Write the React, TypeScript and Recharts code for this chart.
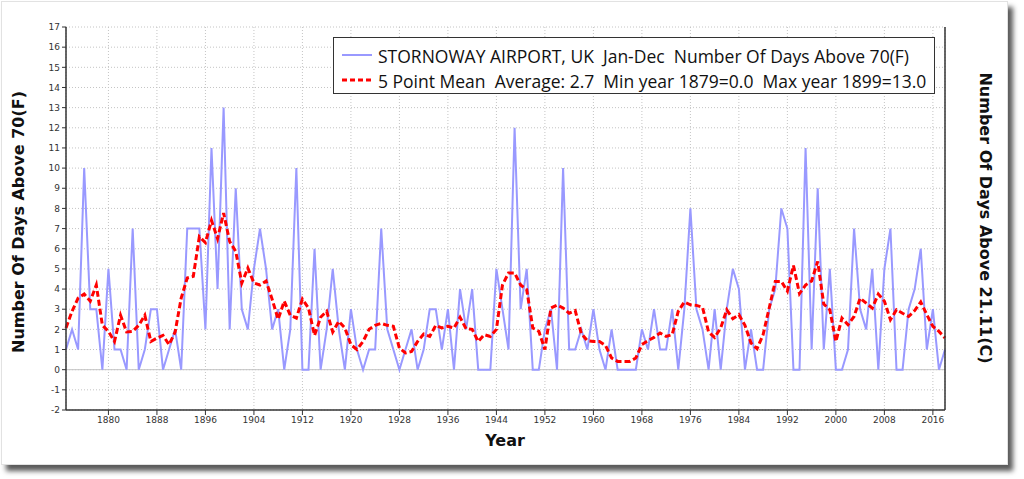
import React from "react";
import {
  LineChart,
  Line,
  XAxis,
  YAxis,
  CartesianGrid,
  ReferenceLine,
} from "recharts";

// Stornoway Airport, days above 70F per year, 1873-2018
const FIRST_YEAR = 1873;

const daysAbove70 = [
  1, 2, 1, 10, 3, 3, 0,
  5, 1, 1, 0, 7, 0, 1, 3, 3, 0,
  1, 2, 0, 7, 7, 7, 2, 11, 4, 13,
  2, 9, 3, 2, 5, 7, 5, 2, 3, 0,
  2, 10, 0, 0, 6, 0, 2, 5, 2, 0,
  3, 1, 0, 1, 1, 7, 2, 1, 0, 1,
  2, 0, 1, 3, 3, 1, 3, 0, 4, 2,
  4, 0, 0, 0, 5, 3, 1, 12, 3, 5,
  0, 0, 2, 3, 0, 10, 1, 1, 2, 1,
  3, 1, 0, 2, 0, 0, 0, 0, 2, 1,
  3, 1, 1, 3, 0, 3, 8, 3, 2, 0,
  3, 0, 3, 5, 4, 0, 2, 0, 0, 3,
  4, 8, 7, 0, 0, 11, 1, 9, 1, 5,
  0, 0, 1, 7, 3, 2, 5, 0, 5, 7,
  0, 0, 3, 4, 6, 1, 3, 0, 1,
];

const fivePointMean = [
  2.07, 2.9, 3.55, 3.75, 3.4, 4.2, 2.2,
  1.9, 1.4, 2.7, 1.87, 1.9, 2.2, 2.7, 1.4, 1.57, 1.7,
  1.24, 1.87, 3.55, 4.55, 4.63, 6.6, 6.3, 7.4, 6.5, 7.77,
  6.36, 5.87, 4.3, 5.04, 4.3, 4.2, 4.4, 3.5, 2.5, 3.4,
  2.7, 2.56, 3.5, 3.06, 1.7, 2.6, 2.9, 1.87, 2.4, 2.07,
  1.24, 1.0, 1.4, 2.0, 2.2, 2.3, 2.2, 2.15, 1.07, 0.83,
  0.9, 1.4, 1.77, 1.65, 2.2, 2.07, 2.15, 2.07, 2.6, 2.03,
  2.0, 1.4, 1.74, 1.65, 2.0, 4.2, 4.8, 4.8, 4.2, 3.97,
  2.07, 1.9, 1.0, 3.06, 3.2, 3.06, 2.8, 2.93, 1.8, 1.44,
  1.4, 1.4, 1.2, 0.58, 0.41, 0.41, 0.41, 0.58, 1.24, 1.44,
  1.6, 1.82, 1.65, 1.74, 2.9, 3.36, 3.22, 3.19, 3.1, 1.87,
  1.6, 2.07, 2.97, 2.53, 2.73, 2.2, 1.32, 1.04, 1.74, 3.06,
  4.38, 4.38, 3.9, 5.17, 3.77, 4.2, 4.4, 5.37, 3.26, 2.97,
  1.4, 2.56, 2.23, 2.64, 3.55, 3.3, 3.06, 3.75, 3.4, 2.48,
  2.97, 2.8, 2.64, 2.93, 3.36, 2.73, 2.15, 1.9, 1.57,
];

const yearTicks = [
  1880, 1888, 1896, 1904, 1912, 1920, 1928, 1936, 1944, 1952, 1960, 1968,
  1976, 1984, 1992, 2000, 2008, 2016,
];
const minorYearTicks = [
  1874, 1876, 1878, 1880, 1882, 1884, 1886, 1888, 1890, 1892, 1894, 1896,
  1898, 1900, 1902, 1904, 1906, 1908, 1910, 1912, 1914, 1916, 1918, 1920,
  1922, 1924, 1926, 1928, 1930, 1932, 1934, 1936, 1938, 1940, 1942, 1944,
  1946, 1948, 1950, 1952, 1954, 1956, 1958, 1960, 1962, 1964, 1966, 1968,
  1970, 1972, 1974, 1976, 1978, 1980, 1982, 1984, 1986, 1988, 1990, 1992,
  1994, 1996, 1998, 2000, 2002, 2004, 2006, 2008, 2010, 2012, 2014, 2016,
  2018,
];
const dayTicks = [
  -2, -1, 0, 1, 2, 3, 4, 5, 6, 7, 8, 9, 10, 11, 12, 13, 14, 15, 16, 17,
];

const legendRows = [
  {
    text: "STORNOWAY AIRPORT, UK  Jan-Dec  Number Of Days Above 70(F)",
    color: "#9999ff",
    width: 2,
    dash: undefined as string | undefined,
  },
  {
    text: "5 Point Mean  Average: 2.7  Min year 1879=0.0  Max year 1899=13.0",
    color: "#ff0000",
    width: 3,
    dash: "5 3",
  },
];

const data = daysAbove70.map((days, i) => ({
  year: FIRST_YEAR + i,
  days,
  mean: fivePointMean[i],
}));

const FONT = "'DejaVu Sans', Verdana, sans-serif";
const BLUE = "#9999ff";
const RED = "#ff0000";
const AXIS = "#333";
const tickStyle = { fontSize: 9, fill: "#333", fontFamily: FONT };

const titleStyle: React.CSSProperties = {
  position: "absolute",
  fontFamily: FONT,
  fontWeight: "bold",
  fontSize: 16,
  color: "#111",
  whiteSpace: "nowrap",
};

const LegendBox = () => (
  <div
    style={{
      position: "absolute",
      left: 333,
      top: 37,
      width: 602,
      height: 57,
      border: "1px solid #333",
      background: "#fff",
      fontFamily: "'Open Sans', sans-serif",
      fontSize: 17.5,
      color: "#111",
      boxSizing: "border-box",
    }}
  >
    {legendRows.map((row, i) => (
      <div
        key={i}
        style={{
          position: "absolute",
          left: 8,
          top: 7 + i * 25,
          height: 22,
          display: "flex",
          alignItems: "center",
          whiteSpace: "pre",
        }}
      >
        <svg width={30} height={10} style={{ marginRight: 6 }}>
          <line
            x1={0}
            y1={4}
            x2={30}
            y2={4}
            stroke={row.color}
            strokeWidth={row.width}
            strokeDasharray={row.dash}
          />
        </svg>
        <span>{row.text}</span>
      </div>
    ))}
  </div>
);

export default function App() {
  return (
    <div
      style={{
        position: "absolute",
        left: 0,
        top: 0,
        width: 1024,
        height: 479,
        background: "#fff",
        overflow: "hidden",
      }}
    >
      <div
        style={{
          position: "absolute",
          left: 1,
          top: 1,
          width: 1005,
          height: 462,
          border: "1px solid #e2e2e2",
          background: "#fff",
          boxShadow: "5px 6px 5px rgba(0,0,0,0.65)",
        }}
      />
      <div style={{ position: "absolute", left: 0, top: 0 }}>
        <LineChart
          width={1024}
          height={479}
          data={data}
          margin={{ top: 27, right: 44, bottom: 39, left: 26 }}
        >
          <CartesianGrid
            xAxisId="major"
            yAxisId="left"
            stroke="#c4c4c4"
            strokeDasharray="1 2"
          />
          <XAxis
            xAxisId="minor"
            dataKey="year"
            type="number"
            domain={[1873, 2018]}
            ticks={minorYearTicks}
            interval={0}
            tick={false}
            tickSize={3}
            tickLine={{ stroke: AXIS }}
            axisLine={false}
            height={0}
          />
          <XAxis
            xAxisId="major"
            dataKey="year"
            type="number"
            domain={[1873, 2018]}
            ticks={yearTicks}
            interval={0}
            tick={tickStyle}
            tickSize={5}
            tickMargin={2}
            tickLine={{ stroke: AXIS }}
            axisLine={{ stroke: AXIS, strokeWidth: 1.5 }}
            height={30}
          />
          <YAxis
            yAxisId="left"
            type="number"
            domain={[-2, 17]}
            ticks={dayTicks}
            interval={0}
            tick={tickStyle}
            tickSize={4}
            tickMargin={2}
            tickLine={{ stroke: AXIS }}
            axisLine={{ stroke: AXIS, strokeWidth: 1.5 }}
            width={40}
          />
          <YAxis
            yAxisId="right"
            orientation="right"
            type="number"
            domain={[-2, 17]}
            ticks={dayTicks}
            interval={0}
            tick={tickStyle}
            tickSize={4}
            tickMargin={2}
            tickLine={{ stroke: AXIS }}
            axisLine={{ stroke: AXIS, strokeWidth: 1.5 }}
            width={35}
          />
          <ReferenceLine
            xAxisId="major"
            yAxisId="left"
            y={0}
            stroke="#c4c4c4"
          />
          <Line
            xAxisId="major"
            yAxisId="left"
            type="linear"
            dataKey="days"
            stroke={BLUE}
            strokeWidth={2}
            dot={false}
            activeDot={false}
            isAnimationActive={false}
          />
          <Line
            xAxisId="major"
            yAxisId="left"
            type="linear"
            dataKey="mean"
            stroke={RED}
            strokeWidth={3}
            strokeDasharray="6 3"
            dot={false}
            activeDot={false}
            isAnimationActive={false}
          />
        </LineChart>
      </div>
      <LegendBox />
      <div
        style={{
          ...titleStyle,
          left: 18,
          top: 222,
          transform: "translate(-50%, -50%) rotate(-90deg)",
        }}
      >
        Number Of Days Above 70(F)
      </div>
      <div
        style={{
          ...titleStyle,
          left: 985,
          top: 218,
          transform: "translate(-50%, -50%) rotate(90deg)",
        }}
      >
        Number Of Days Above 21.11(C)
      </div>
      <div
        style={{
          ...titleStyle,
          left: 505,
          top: 440,
          transform: "translate(-50%, -50%)",
        }}
      >
        Year
      </div>
    </div>
  );
}
